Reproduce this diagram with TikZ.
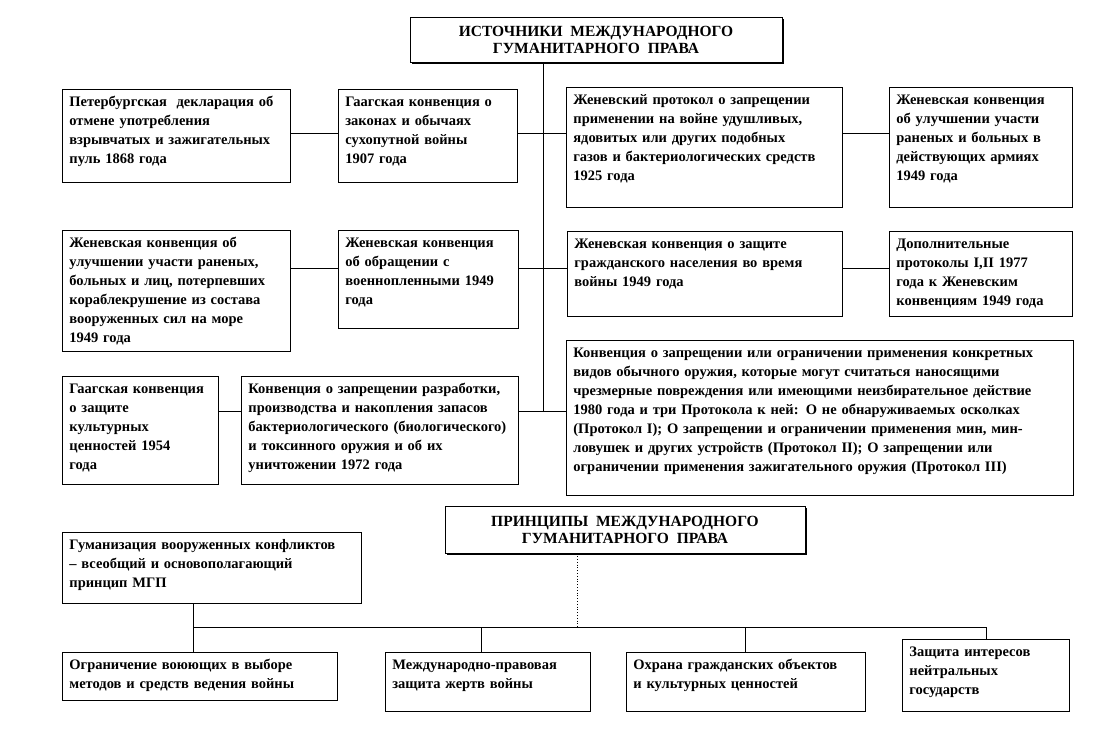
\documentclass[tikz,border=0pt]{standalone}
\usepackage{fontspec}
\setmainfont{Liberation Serif}
\usetikzlibrary{positioning,shadows}

\begin{document}
\begin{tikzpicture}[x=1pt, y=-1pt, srcbox/.style={draw, line width=0.8pt, anchor=north west, align=left, inner xsep=7pt, inner ysep=5pt, text height=12pt, font=\fontsize{14.5}{19}\selectfont\bfseries}, titlebox/.style={draw, line width=0.8pt, fill=white, align=center, drop shadow={shadow xshift=2pt, shadow yshift=-2pt, fill=black, opacity=1}, font=\fontsize{15.5}{17}\selectfont\bfseries}, link/.style={line width=0.8pt}]
\useasboundingbox (0,0) rectangle (1120,738);
% sources
\node[titlebox, minimum width=372pt, minimum height=45pt] (srctitle) at (596,39.5) {ИСТОЧНИКИ\ \ МЕЖДУНАРОДНОГО\\ГУМАНИТАРНОГО\ \ ПРАВА};
\coordinate (r1) at (543,133);
\coordinate (r2) at (543,268);
\coordinate (r3) at (543,411);
\node[srcbox, text width=214pt, text depth=71pt] (s1) at (62,89) {Петербургская\ \ декларация об\\отмене употребления\\взрывчатых и зажигательных\\пуль 1868 года};
\node[srcbox, text width=165pt, text depth=71pt] (s2) at (338,89) {Гаагская конвенция о\\законах и обычаях\\сухопутной войны\\1907 года};
\node[srcbox, text width=262pt, text depth=98pt] (s3) at (566,87) {Женевский протокол о запрещении\\применении на войне удушливых,\\ядовитых или других подобных\\газов и бактериологических средств\\1925 года};
\node[srcbox, text width=169pt, text depth=98pt] (s4) at (889,87) {Женевская конвенция\\об улучшении участи\\раненых и больных в\\действующих армиях\\1949 года};
\node[srcbox, text width=214pt, text depth=99pt] (s5) at (62,230) {Женевская конвенция об\\улучшении участи раненых,\\больных и лиц, потерпевших\\кораблекрушение из состава\\вооруженных сил на море\\1949 года};
\node[srcbox, text width=166pt, text depth=76pt] (s6) at (338,230) {Женевская конвенция\\об обращении с\\военнопленными 1949\\года};
\node[srcbox, text width=261pt, text depth=63pt] (s7) at (567,231) {Женевская конвенция о защите\\гражданского населения во время\\войны 1949 года};
\node[srcbox, text width=169pt, text depth=63pt] (s8) at (889,231) {Дополнительные\\протоколы I,II 1977\\года к Женевским\\конвенциям 1949 года};
\node[srcbox, text width=142pt, text depth=86pt] (s9) at (62,376) {Гаагская конвенция\\о защите\\культурных\\ценностей 1954\\года};
\node[srcbox, text width=263pt, text depth=86pt] (s10) at (241,376) {Конвенция о запрещении разработки,\\производства и накопления запасов\\бактериологического (биологического)\\и токсинного оружия и об их\\уничтожении 1972 года};
\node[srcbox, text width=493pt, text depth=133pt] (s11) at (566,340) {Конвенция о запрещении или ограничении применения конкретных\\видов обычного оружия, которые могут считаться наносящими\\чрезмерные повреждения или имеющими неизбирательное действие\\1980 года и три Протокола к ней: О не обнаруживаемых осколках\\(Протокол I); О запрещении и ограничении применения мин, мин-\\ловушек и других устройств (Протокол II); О запрещении или\\ограничении применения зажигательного оружия (Протокол III)};
\draw[link] (srctitle.south -| r1) -- (r3);
\draw[link] (s1.east |- r1) -- (s2.west |- r1);
\draw[link] (s2.east |- r1) -- (s3.west |- r1);
\draw[link] (s3.east |- r1) -- (s4.west |- r1);
\draw[link] (s5.east |- r2) -- (s6.west |- r2);
\draw[link] (s6.east |- r2) -- (s7.west |- r2);
\draw[link] (s7.east |- r2) -- (s8.west |- r2);
\draw[link] (s9.east |- r3) -- (s10.west |- r3);
\draw[link] (s10.east |- r3) -- (s11.west |- r3);
% principles
\node[titlebox, minimum width=360pt, minimum height=47pt] (prntitle) at (625,529.5) {ПРИНЦИПЫ\ \ МЕЖДУНАРОДНОГО\\ГУМАНИТАРНОГО\ \ ПРАВА};
\coordinate (b0) at (577,627);
\coordinate (b1) at (193,627);
\coordinate (b2) at (481,627);
\coordinate (b3) at (745,627);
\coordinate (b4) at (986,627);
\node[srcbox, text width=285pt, text depth=49pt] (p1) at (62,532) {Гуманизация вооруженных конфликтов\\– всеобщий и основополагающий\\принцип МГП};
\node[srcbox, text width=261pt, text depth=26pt] (p2) at (62,652) {Ограничение воюющих в выборе\\методов и средств ведения войны};
\node[srcbox, text width=191pt, text depth=37pt] (p3) at (385,652) {Международно-правовая\\защита жертв войны};
\node[srcbox, text width=225pt, text depth=37pt] (p4) at (626,652) {Охрана гражданских объектов\\и культурных ценностей};
\node[srcbox, text width=153pt, text depth=50pt] (p5) at (902,639) {Защита интересов\\нейтральных\\государств};
\draw[link, dotted] (prntitle.south -| b0) -- (b0);
\draw[link] (p1.south -| b1) -- (p2.north -| b1);
\draw[link] (b1) -- (b4) -- (p5.north -| b4);
\draw[link] (b2) -- (p3.north -| b2);
\draw[link] (b3) -- (p4.north -| b3);
\end{tikzpicture}
\end{document}
